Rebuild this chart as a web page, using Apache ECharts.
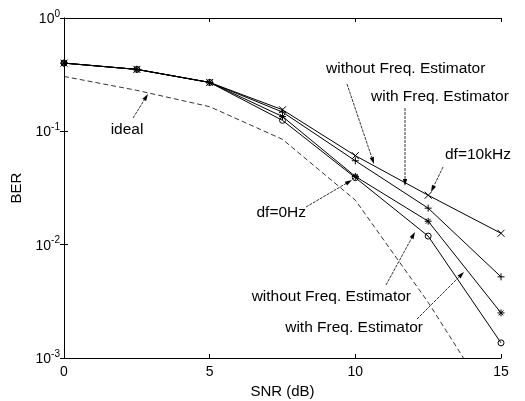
<!DOCTYPE html>
<html><head><meta charset="utf-8">
<script src="https://cdn.jsdelivr.net/npm/echarts@6/dist/echarts.min.js"></script>
<style>html,body{margin:0;padding:0;background:#fff}#c{width:525px;height:401px}</style>
</head><body><div id="c"></div>
<script>
// ---- data ----
const snr = [0, 2.5, 5, 7.5, 10, 12.5, 15];
const berIdeal    = [0.305, 0.23, 0.165, 0.085, 0.0247, 0.0031, 0.0003];
const berNoEst10k = [0.40, 0.352, 0.27, 0.155, 0.061, 0.0273, 0.0126];
const berEst10k   = [0.40, 0.352, 0.27, 0.148, 0.055, 0.021, 0.0052];
const berNoEst0   = [0.40, 0.352, 0.27, 0.135, 0.040, 0.0161, 0.0025];
const berEst0     = [0.40, 0.352, 0.27, 0.125, 0.039, 0.0119, 0.00136];
const xTicks = [0, 5, 10, 15];
const yTicks = [0.001, 0.01, 0.1, 1];
const xName = 'SNR (dB)';
const yName = 'BER';

const FONT = '"Liberation Sans", Arial, sans-serif';
const pairs = ys => snr.map((x, i) => [x, ys[i]]);
const X_SYM = 'path://M0,0L10,10M10,0L0,10';
const P_SYM = 'path://M5,0L5,10M0,5L10,5';
const S_SYM = 'path://M5,0L5,10M0,5L10,5M1.5,1.5L8.5,8.5M8.5,1.5L1.5,8.5';

function lineSeries(name, ys, symbol, size, fill) {
  return {
    name, type: 'line', data: pairs(ys), symbol, symbolSize: size,
    showAllSymbol: true,
    lineStyle: { color: '#000', width: 1 },
    itemStyle: { color: fill, borderColor: '#000', borderWidth: 1 },
    emphasis: { disabled: true }, animation: false, z: 3
  };
}

const chart = echarts.init(document.getElementById('c'), null, { renderer: 'canvas' });
const axisCommon = {
  axisLine: { lineStyle: { color: '#000', width: 1 } },
  axisTick: { inside: true, length: 4, lineStyle: { color: '#000' } },
  splitLine: { show: false }
};
const yLabelFmt = v => { const e = Math.round(Math.log10(v)); return '{b|10}{s|' + e + '}'; };

chart.setOption({
  backgroundColor: '#fff',
  animation: false,
  grid: { left: 64, right: 24, top: 18, bottom: 43, containLabel: false, outerBoundsMode: 'none' },
  xAxis: [
    Object.assign({
      type: 'value', min: 0, max: 15, interval: 5, position: 'bottom',
      name: xName, nameLocation: 'middle', nameGap: 25,
      nameTextStyle: { fontFamily: FONT, fontSize: 15, color: '#000' },
      axisLabel: { fontFamily: FONT, fontSize: 14, color: '#000', margin: 7,
        formatter: v => xTicks.includes(v) ? String(v) : '' }
    }, axisCommon),
    Object.assign({ type: 'value', min: 0, max: 15, interval: 5, position: 'top',
      axisLabel: { show: false } }, axisCommon)
  ],
  yAxis: [
    Object.assign({
      type: 'log', logBase: 10, min: yTicks[0], max: yTicks[yTicks.length - 1], position: 'left',
      name: yName, nameLocation: 'middle', nameGap: 38, nameRotate: 90,
      nameTextStyle: { fontFamily: FONT, fontSize: 15, color: '#000' },
      axisLabel: { margin: 4, formatter: yLabelFmt,
        rich: {
          b: { fontFamily: FONT, fontSize: 14, color: '#000', lineHeight: 16, verticalAlign: 'bottom' },
          s: { fontFamily: FONT, fontSize: 10, color: '#000', lineHeight: 16, padding: [0, 0, 7, 0], verticalAlign: 'bottom' }
        } }
    }, axisCommon),
    Object.assign({ type: 'log', logBase: 10, min: yTicks[0], max: yTicks[yTicks.length - 1], position: 'right',
      axisLabel: { show: false } }, axisCommon)
  ],
  series: [
    {
      name: 'ideal', type: 'line', data: pairs(berIdeal), symbol: 'none', smooth: false,
      lineStyle: { color: '#000', width: 0.8, type: [5, 3] }, clip: true, emphasis: { disabled: true }, z: 2
    },
    lineSeries('with Freq. Estimator df=0Hz', berEst0, 'circle', 6, 'rgba(0,0,0,0)'),
    lineSeries('without Freq. Estimator df=10kHz', berNoEst10k, X_SYM, 7, '#000'),
    lineSeries('with Freq. Estimator df=10kHz', berEst10k, P_SYM, 7, '#000'),
    lineSeries('without Freq. Estimator df=0Hz', berNoEst0, S_SYM, 7, '#000')
  ]
});

// ---- annotations (text + leader arrows) ----
function arrow(x1, y1, x2, y2) {
  const dx = x2 - x1, dy = y2 - y1, L = Math.hypot(dx, dy);
  const ux = dx / L, uy = dy / L, hl = 7, hw = 2.2;
  const bx = x2 - ux * hl, by = y2 - uy * hl;
  return [
    { type: 'line', shape: { x1, y1, x2: bx, y2: by }, style: { stroke: '#000', lineWidth: 0.8, lineDash: [3, 1] }, silent: true, z: 10 },
    { type: 'polygon', shape: { points: [[x2, y2], [bx - uy * hw, by + ux * hw], [bx + uy * hw, by - ux * hw]] },
      style: { fill: '#000' }, silent: true, z: 10 }
  ];
}
function label(text, x, y, align) {
  return { type: 'text', x, y, silent: true, z: 10,
    style: { text, fill: '#000', font: '15.5px ' + FONT, align: align || 'left', verticalAlign: 'middle' } };
}
const g = [].concat(
  [label('ideal', 127, 130, 'center')], arrow(133, 118, 148, 94),
  [label('without Freq. Estimator', 326, 69)], arrow(347, 84, 374, 164),
  [label('with Freq. Estimator', 371, 97)], arrow(405, 108, 405, 186),
  [label('df=10kHz', 445, 155)], arrow(443, 167, 431, 192),
  [label('df=0Hz', 306, 213, 'right')], arrow(306, 207, 352, 180),
  [label('without Freq. Estimator', 411, 297, 'right')], arrow(386, 285, 415, 232),
  [label('with Freq. Estimator', 423, 328, 'right')], arrow(417, 319, 464, 272)
);
chart.setOption({ graphic: g });
</script></body></html>
